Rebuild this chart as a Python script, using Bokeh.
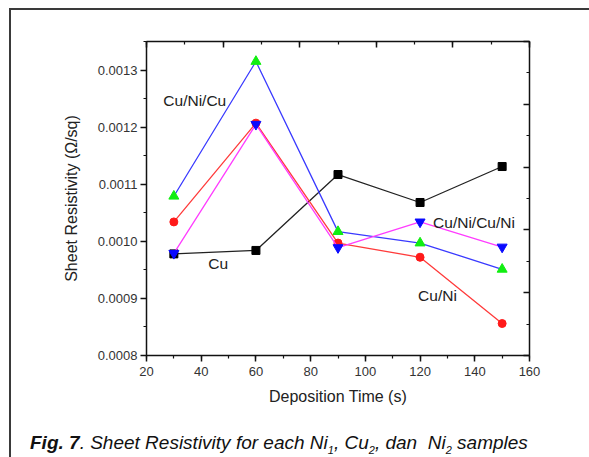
from bokeh.plotting import figure
from bokeh.layouts import column
from bokeh.models import (Range1d, LinearAxis, SingleIntervalTicker, NumeralTickFormatter,
                          CustomJSTickFormatter, Div)
from bokeh.core.properties import value
from bokeh.embed import file_html
from bokeh.resources import INLINE

# ---------------- data ----------------
time_s = [30, 60, 90, 120, 150]
cu = [0.000978, 0.000984, 0.001117, 0.001068, 0.001131]
cu_ni = [0.001034, 0.001207, 0.000997, 0.000972, 0.000856]
cu_ni_cu = [0.001079, 0.001315, 0.001017, 0.000997, 0.000951]
cu_ni_cu_ni = [0.000979, 0.001205, 0.000989, 0.001034, 0.000990]
series_names = ["Cu", "Cu/Ni", "Cu/Ni/Cu", "Cu/Ni/Cu/Ni"]
x_title = "Deposition Time (s)"
y_title = "Sheet Resistivity (\u03a9/sq)"
caption_bold = "Fig. 7"
caption_parts = [". Sheet Resistivity for each Ni", "1", ", Cu", "2", ", dan&nbsp; Ni", "2", " samples"]

FONT = "Liberation Sans"

p = figure(width=578, height=400, output_backend="svg", toolbar_location=None,
           x_range=Range1d(20, 160), y_range=Range1d(0.0008, 0.00135),
           min_border_left=135, min_border_right=60, min_border_top=31,
           min_border_bottom=55)
p.grid.visible = False
p.outline_line_color = None
p.background_fill_color = "white"
p.border_fill_color = "white"

# bottom axis
xa = p.xaxis[0]
xa.ticker = SingleIntervalTicker(interval=20, num_minor_ticks=2)
xa.axis_label = x_title
# left axis
ya = p.yaxis[0]
ya.ticker = SingleIntervalTicker(interval=0.0001, num_minor_ticks=2)
ya.formatter = NumeralTickFormatter(format="0.0000")
ya.axis_label = y_title

for ax in (xa, ya):
    ax.axis_line_width = 1.5
    ax.axis_line_color = "#111111"
    ax.major_tick_line_width = 1.5
    ax.minor_tick_line_width = 1.2
    ax.major_tick_line_color = "#111111"
    ax.minor_tick_line_color = "#111111"
    ax.major_tick_out = 6
    ax.major_tick_in = 0
    ax.minor_tick_out = 3
    ax.minor_tick_in = 0
    ax.major_label_text_font = FONT
    ax.major_label_text_font_size = "13px"
    ax.major_label_text_color = "#333333"
    ax.axis_label_text_font = FONT
    ax.axis_label_text_font_size = "16px"
    ax.axis_label_text_font_style = "normal"
    ax.axis_label_text_color = "#222222"
xa.major_label_standoff = 5
xa.axis_label_standoff = 9
ya.major_label_standoff = 3
ya.axis_label_standoff = 15

# top and right frame axes (independent 0-10 scales, ticks inward, no labels)
p.extra_x_ranges = {"top": Range1d(0, 10)}
p.extra_y_ranges = {"right": Range1d(0, 10)}
ta = LinearAxis(x_range_name="top", ticker=SingleIntervalTicker(interval=2, num_minor_ticks=2),
                formatter=CustomJSTickFormatter(code="return ''"))
ra = LinearAxis(y_range_name="right", ticker=SingleIntervalTicker(interval=2, num_minor_ticks=2),
                formatter=CustomJSTickFormatter(code="return ''"))
for ax in (ta, ra):
    ax.axis_line_width = 1.5
    ax.axis_line_color = "#111111"
    ax.major_tick_line_width = 1.5
    ax.minor_tick_line_width = 1.2
    ax.major_tick_line_color = "#111111"
    ax.minor_tick_line_color = "#111111"
    ax.major_tick_in = 6
    ax.major_tick_out = 0
    ax.minor_tick_in = 3
    ax.minor_tick_out = 0
    ax.major_label_standoff = 0
p.add_layout(ta, "above")
p.add_layout(ra, "right")

# series
p.line(time_s, cu, line_color="#222222", line_width=1.3)
p.scatter(time_s, cu, marker="square", size=8, fill_color="black", line_color="black")

p.line(time_s, cu_ni, line_color="#ff3b3b", line_width=1.3)
p.scatter(time_s, cu_ni, marker="circle", size=8, fill_color="#ff1a1a", line_color="#ff1a1a")

p.line(time_s, cu_ni_cu, line_color="#3a3aff", line_width=1.3)
p.scatter(time_s, cu_ni_cu, marker="triangle", size=10, fill_color="#11ee11", line_color="#11ee11")

p.line(time_s, cu_ni_cu_ni, line_color="#ff3cff", line_width=1.3)
p.scatter(time_s, cu_ni_cu_ni, marker="inverted_triangle", size=10, fill_color="#0a0aff",
          line_color="#0a0aff")

# series labels, anchored to a point of each series with pixel offsets
label_specs = [
    (series_names[2], cu_ni_cu, 0, -10.5, -95.7),
    (series_names[0], cu, 0, 34.5, 9.7),
    (series_names[3], cu_ni_cu_ni, 3, 13, 0.7),
    (series_names[1], cu_ni, 3, -2, 38.3),
]
for name, ys, idx, dx, dy in label_specs:
    p.text(x=[time_s[idx]], y=[ys[idx]], text=[name], x_offset=dx, y_offset=dy,
           text_font=value(FONT), text_font_size="15.5px", text_color="#222222",
           text_align="left", text_baseline="middle")

# caption (HTML text)
rest_html = "".join(part if i % 2 == 0 else "<sub style='font-size:11px'>%s</sub>" % part
                    for i, part in enumerate(caption_parts))
caption_html = (
    "<div style=\"font-family:'Liberation Sans',Arial,sans-serif; font-size:19px; "
    "font-style:italic; color:#111; white-space:nowrap; line-height:22px; "
    "padding-left:19px; padding-top:22px;\">"
    "<b>%s</b>%s</div>" % (caption_bold, rest_html)
)
cap = Div(text=caption_html, width=578, height=47, margin=0)

page = column(p, cap, spacing=0, margin=0,
              styles={"margin-left": "9px", "margin-top": "8px",
                      "border-left": "2px solid #3a3a3a", "border-top": "2px solid #3a3a3a",
                      "background": "white"})

open("out.html", "w").write(file_html(page, INLINE))
